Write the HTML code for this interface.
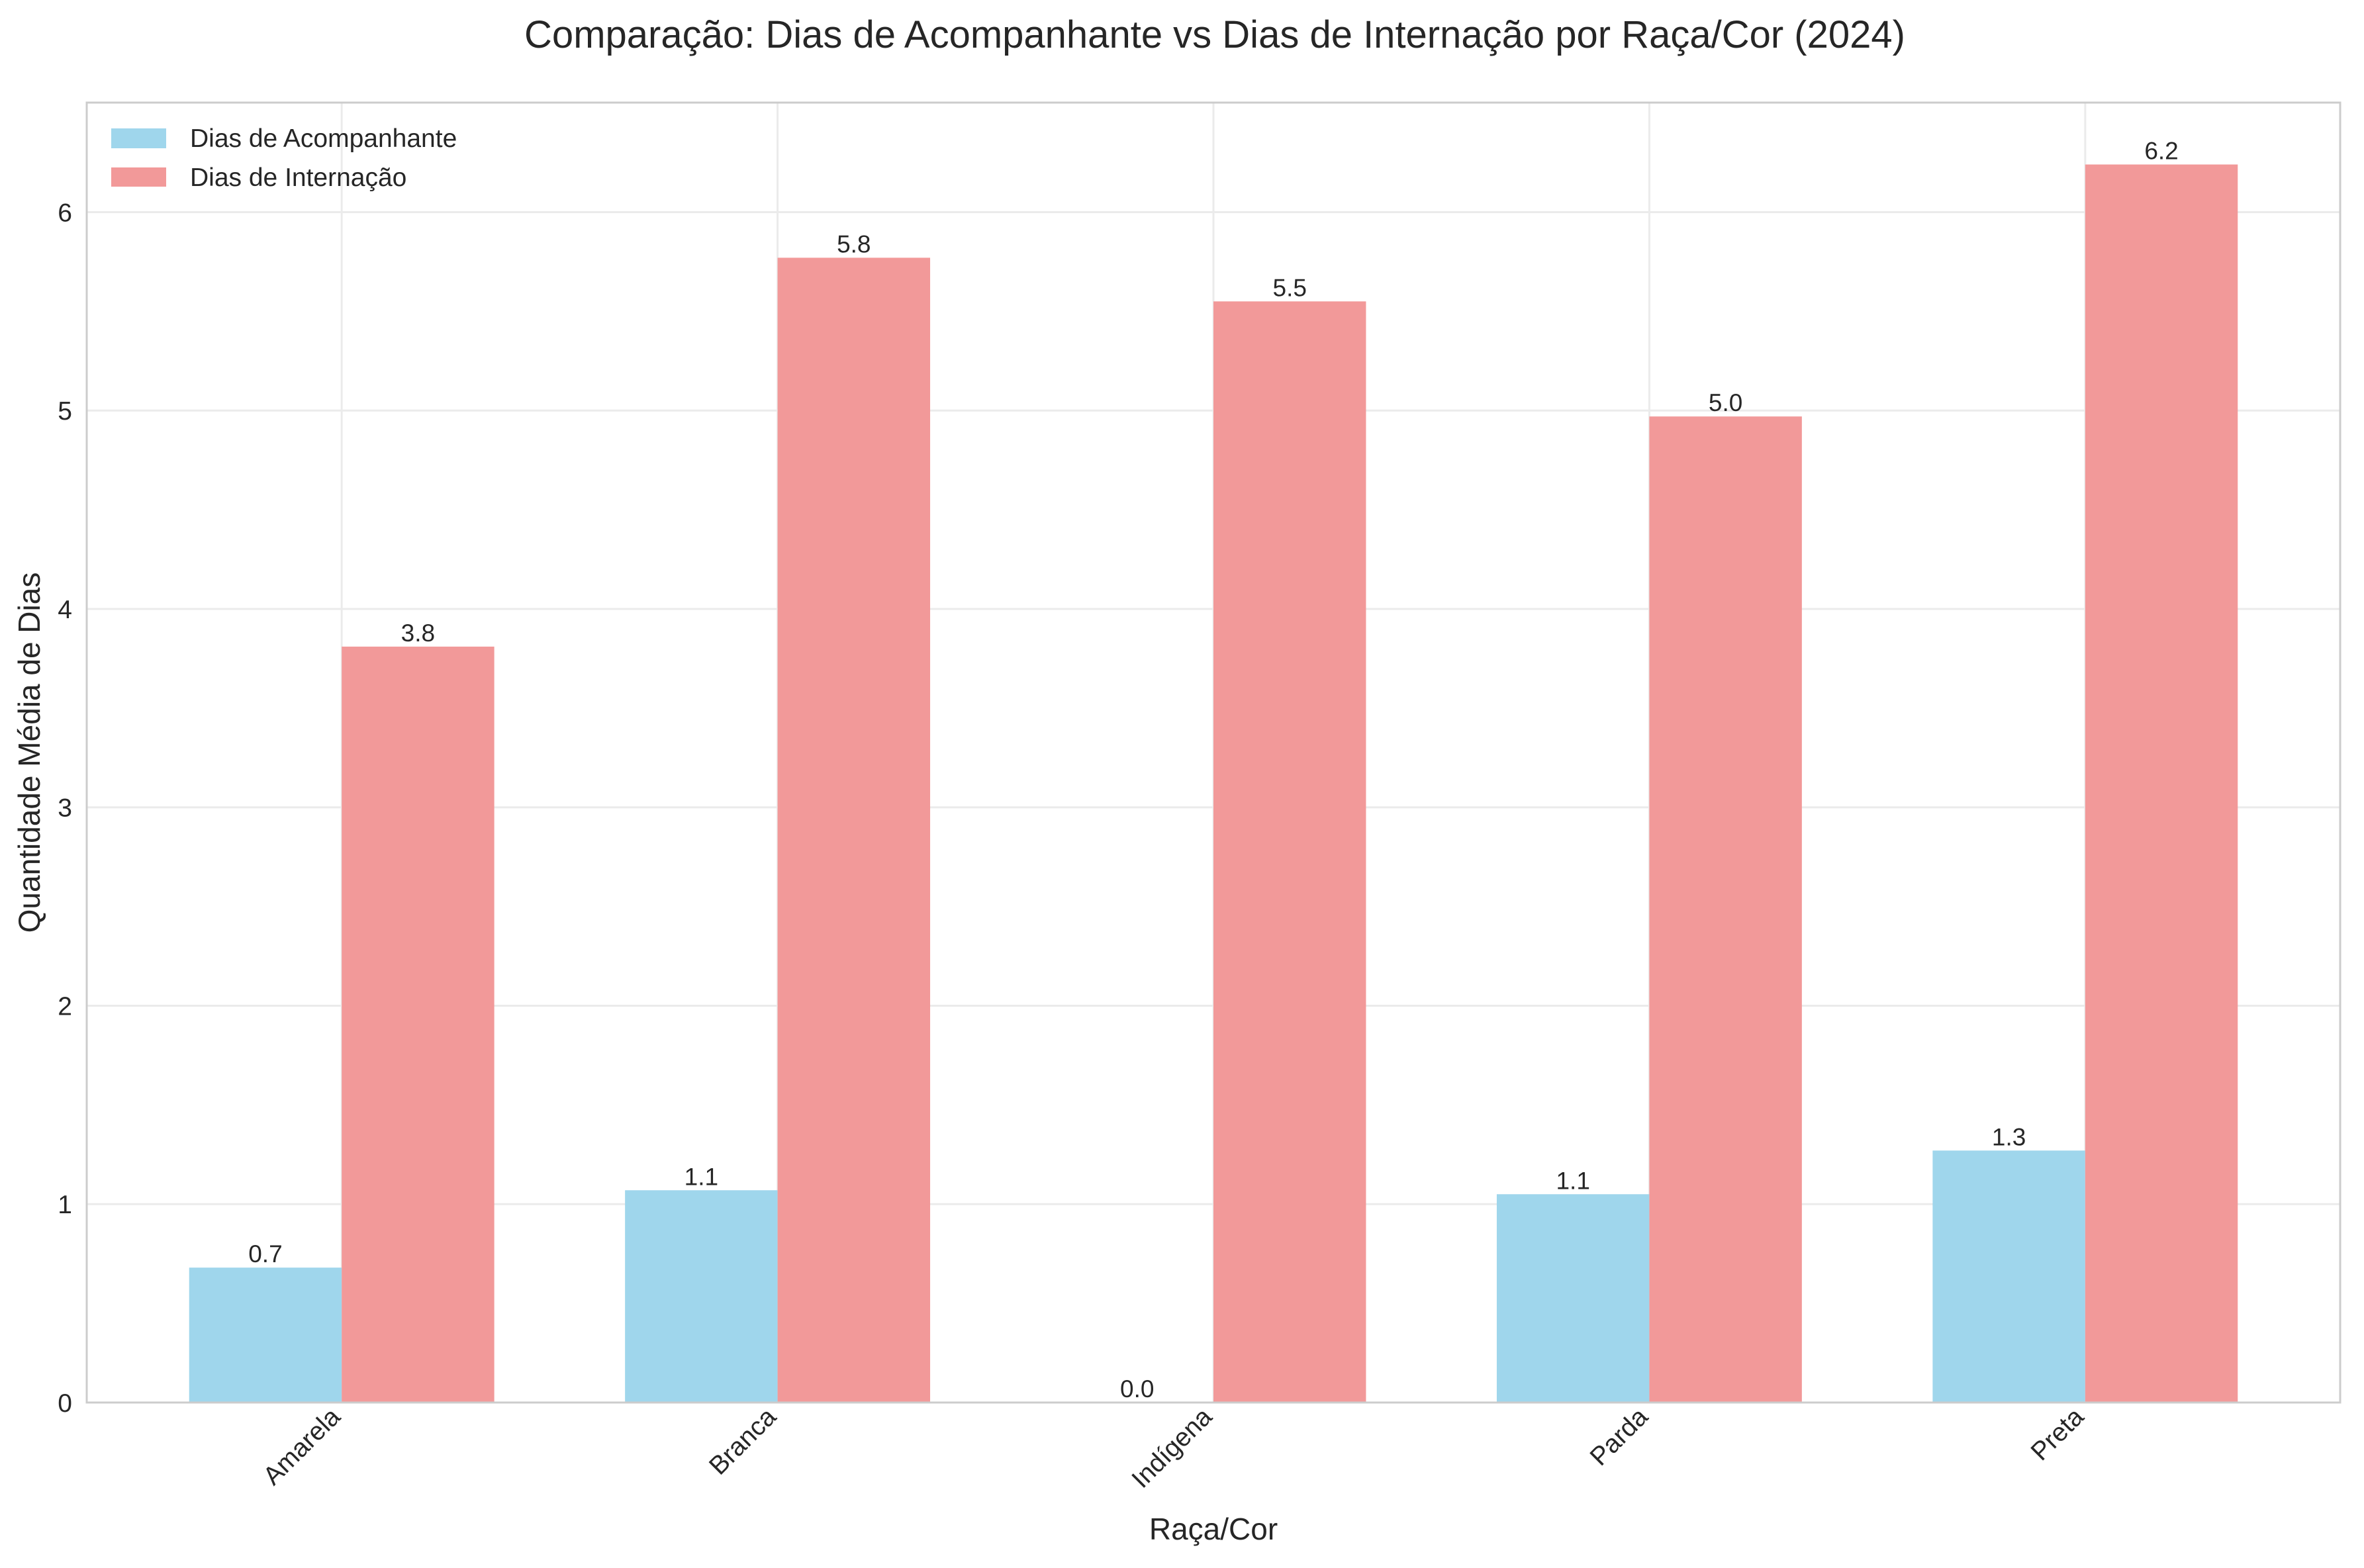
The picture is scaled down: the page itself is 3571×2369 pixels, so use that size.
<!DOCTYPE html>
<html><head><meta charset="utf-8"><style>
html,body{margin:0;padding:0;background:#fff;}
svg{display:block;font-family:"Liberation Sans",Arial,sans-serif;}
</style></head><body>
<svg id="chart" width="3571" height="2369" viewBox="0 0 3571 2369" xmlns="http://www.w3.org/2000/svg">
<text x="1835" y="72" font-size="58" text-anchor="middle" fill="#262626">Comparação: Dias de Acompanhante vs Dias de Internação por Raça/Cor (2024)</text>
<g id="grid"></g>
<g id="bars"></g>
<g id="labels"></g>
<rect x="131" y="155" width="3404" height="1964" fill="none" stroke="#cccccc" stroke-width="3"/>
<g id="ticks"></g>
<text transform="translate(60,1137) rotate(-90)" font-size="46" text-anchor="middle" fill="#262626">Quantidade Média de Dias</text>
<text x="1833" y="2326" font-size="46" text-anchor="middle" fill="#262626">Raça/Cor</text>
<g>
<rect x="168" y="194" width="83" height="30" fill="#9fd6ec"/>
<text x="287" y="222" font-size="39" fill="#262626">Dias de Acompanhante</text>
<rect x="168" y="253" width="83" height="29" fill="#f29999"/>
<text x="287" y="281" font-size="39" fill="#262626">Dias de Internação</text>
</g>
</svg>
<script>
const categories = ["Amarela","Branca","Indígena","Parda","Preta"];
const acompanhante = [0.68,1.07,0.0,1.05,1.27];
const internacao = [3.81,5.77,5.55,4.97,6.24];
const yTicks = [0,1,2,3,4,5,6];

const NS="http://www.w3.org/2000/svg";
const L=131,R=3535,T=155,B=2119;
const xMin=-0.585,xMax=4.585,yMax=Math.max(...internacao,...acompanhante)*1.05;
const xs=i=>L+(i-xMin)/(xMax-xMin)*(R-L);
const ys=v=>B-v/yMax*(B-T);
const unit=(R-L)/(xMax-xMin);
function mk(tag,attrs,parent){const e=document.createElementNS(NS,tag);for(const k in attrs)e.setAttribute(k,attrs[k]);parent.appendChild(e);return e;}
const grid=document.getElementById('grid'),bars=document.getElementById('bars'),labels=document.getElementById('labels'),ticks=document.getElementById('ticks');
yTicks.forEach(t=>{
  const g=mk('line',{x1:L,x2:R,y1:ys(t),y2:ys(t),stroke:'#ebebeb','stroke-width':3},grid);
  
  
  const tx=mk('text',{x:L-22,y:ys(t)+14,'font-size':39,'text-anchor':'end',fill:'#262626'},ticks);
  tx.textContent=t;
  
  
});
categories.forEach((c,i)=>{
  const gl=mk('line',{x1:xs(i),x2:xs(i),y1:T,y2:B,stroke:'#ebebeb','stroke-width':3},grid);
  
  
  const w=0.35*unit;
  [[acompanhante,'#9fd6ec',-1,'acompanhante'],[internacao,'#f29999',0,'internacao']].forEach(([arr,col,off,nm])=>{
    const x0=xs(i)+off*w, v=arr[i];
    const r=mk('rect',{x:x0,y:ys(v),width:w,height:B-ys(v),fill:col},bars);
    
    
    const lb=mk('text',{x:x0+w/2,y:ys(v)-8,'font-size':37,'text-anchor':'middle',fill:'#262626'},labels);
    lb.textContent=v.toFixed(1);
    
    
  });
  const xt=mk('text',{transform:`translate(${xs(i)},${B+24}) rotate(-45)`,'font-size':39,'text-anchor':'end',fill:'#262626'},ticks);
  xt.textContent=c;
  
  
});
</script>
</body></html>
